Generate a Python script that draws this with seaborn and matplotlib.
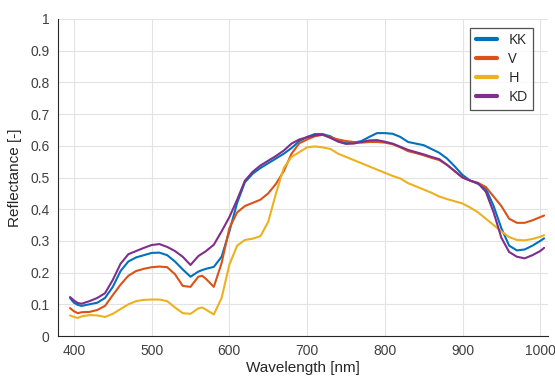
import numpy as np
import pandas as pd
import matplotlib
matplotlib.use("Agg")
import matplotlib.pyplot as plt
import seaborn as sns

wavelength = [395, 400, 405, 410, 420, 430, 440, 450, 460, 470, 480, 490, 500, 510, 520, 530,
              540, 550, 560, 565, 570, 580, 590, 600, 610, 620, 630, 640, 650, 660, 670, 680,
              690, 700, 710, 720, 730, 740, 750, 760, 770, 780, 790, 800, 810, 820, 830, 840,
              850, 860, 870, 880, 890, 900, 910, 920, 930, 940, 950, 960, 970, 980, 990, 1000, 1005]

kk = [0.12, 0.105, 0.098, 0.095, 0.10, 0.105, 0.12, 0.155, 0.205, 0.235, 0.248, 0.255, 0.262, 0.263, 0.255, 0.235,
      0.21, 0.187, 0.203, 0.208, 0.212, 0.218, 0.25, 0.33, 0.42, 0.485, 0.512, 0.53, 0.545, 0.56, 0.575, 0.593,
      0.615, 0.628, 0.637, 0.637, 0.63, 0.615, 0.608, 0.61, 0.615, 0.628, 0.64, 0.64, 0.638, 0.628, 0.612, 0.607,
      0.602, 0.59, 0.578, 0.56, 0.535, 0.508, 0.49, 0.48, 0.465, 0.41, 0.34, 0.285, 0.27, 0.273, 0.285, 0.30, 0.308]

v = [0.088, 0.078, 0.072, 0.075, 0.076, 0.082, 0.095, 0.129, 0.162, 0.19, 0.205, 0.212, 0.217, 0.219, 0.217, 0.195,
     0.158, 0.155, 0.187, 0.19, 0.18, 0.155, 0.23, 0.34, 0.39, 0.41, 0.42, 0.43, 0.45, 0.48, 0.52, 0.575,
     0.608, 0.62, 0.63, 0.635, 0.627, 0.62, 0.615, 0.612, 0.61, 0.612, 0.612, 0.61, 0.605, 0.595, 0.583, 0.577,
     0.57, 0.562, 0.555, 0.54, 0.52, 0.50, 0.49, 0.483, 0.47, 0.44, 0.41, 0.37, 0.357, 0.357, 0.365, 0.375, 0.38]

h = [0.065, 0.06, 0.057, 0.062, 0.066, 0.065, 0.06, 0.07, 0.085, 0.10, 0.11, 0.114, 0.115, 0.115, 0.11, 0.09,
     0.072, 0.07, 0.087, 0.09, 0.083, 0.068, 0.12, 0.225, 0.285, 0.303, 0.307, 0.315, 0.36, 0.45, 0.53, 0.565,
     0.58, 0.595, 0.598, 0.595, 0.59, 0.575, 0.565, 0.555, 0.545, 0.535, 0.525, 0.515, 0.505, 0.497, 0.482, 0.472,
     0.462, 0.452, 0.44, 0.432, 0.425, 0.418, 0.405, 0.39, 0.37, 0.35, 0.33, 0.312, 0.303, 0.302, 0.306, 0.313, 0.318]

kd = [0.123, 0.112, 0.104, 0.102, 0.11, 0.12, 0.135, 0.177, 0.228, 0.258, 0.268, 0.278, 0.287, 0.29, 0.281, 0.268,
      0.25, 0.224, 0.252, 0.26, 0.268, 0.288, 0.33, 0.375, 0.43, 0.49, 0.518, 0.538, 0.553, 0.568, 0.585, 0.607,
      0.62, 0.627, 0.633, 0.635, 0.625, 0.613, 0.606, 0.607, 0.612, 0.617, 0.618, 0.613, 0.607, 0.597, 0.587, 0.58,
      0.573, 0.565, 0.558, 0.54, 0.52, 0.50, 0.49, 0.482, 0.455, 0.39, 0.31, 0.265, 0.25, 0.245, 0.255, 0.268, 0.278]

series_names = ["KK", "V", "H", "KD"]
colors = ["#0072BD", "#D95319", "#EDB120", "#7E2F8E"]
x_ticks = [400, 500, 600, 700, 800, 900, 1000]
y_ticks = [0, 0.1, 0.2, 0.3, 0.4, 0.5, 0.6, 0.7, 0.8, 0.9, 1]
y_tick_labels = ["0", "0.1", "0.2", "0.3", "0.4", "0.5", "0.6", "0.7", "0.8", "0.9", "1"]

frames = []
for name, vals in zip(series_names, [kk, v, h, kd]):
    frames.append(pd.DataFrame({"Wavelength": wavelength, "Reflectance": vals, "Sample": name}))
df = pd.concat(frames, ignore_index=True)

sns.set_style("white")
plt.rcParams["font.family"] = ["Liberation Sans", "DejaVu Sans"]

fig = plt.figure(figsize=(5.55, 3.79), dpi=100)
ax = fig.add_axes([58/555, 1-336/379, 490/555, 317/379])

sns.lineplot(data=df, x="Wavelength", y="Reflectance", hue="Sample",
             palette=dict(zip(series_names, colors)), hue_order=series_names,
             linewidth=1.5, ax=ax, legend=True)

ax.set_xlim(379.5, 1010)
ax.set_ylim(0, 1)
ax.set_xticks(x_ticks)
ax.set_yticks(y_ticks)
ax.set_yticklabels(y_tick_labels)
ax.grid(True, color="#e3e3e3", linewidth=0.8)
ax.set_axisbelow(True)
for s in ["top", "right"]:
    ax.spines[s].set_visible(False)
for s in ["left", "bottom"]:
    ax.spines[s].set_color("#262626")
    ax.spines[s].set_linewidth(0.8)
ax.tick_params(direction="in", length=4, width=0.8, colors="#262626", labelsize=10,
               labelcolor="#404040", pad=6)
ax.set_xlabel("Wavelength [nm]", fontsize=11, color="#262626", labelpad=2)
ax.set_ylabel("Reflectance [-]", fontsize=11, color="#262626", labelpad=6)

leg = ax.legend(loc="upper right", bbox_to_anchor=(0.969, 0.973), borderaxespad=0,
                frameon=True, fancybox=False, prop={"family": "Open Sans", "size": 10.5},
                handlelength=1.45, handletextpad=0.8, labelspacing=0.28, borderpad=0.35)
leg.get_frame().set_edgecolor("#262626")
leg.get_frame().set_linewidth(0.9)
for line in leg.get_lines():
    line.set_linewidth(3)

fig.savefig("out.png", dpi=100)
